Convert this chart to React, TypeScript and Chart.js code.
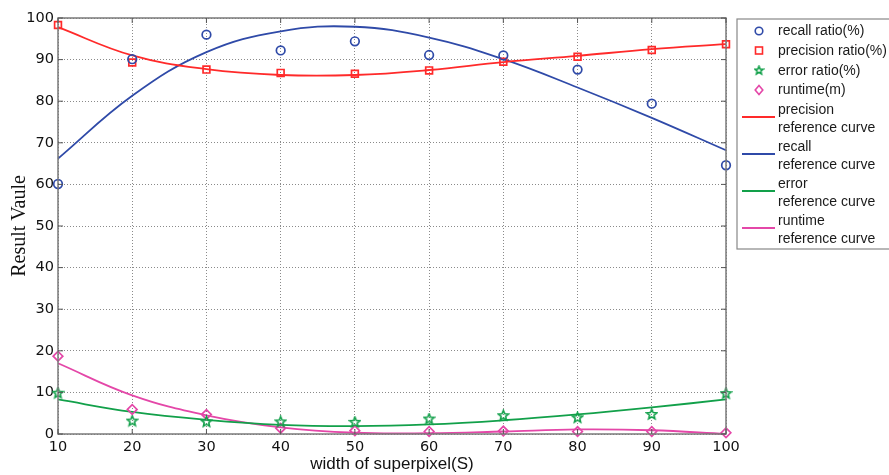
import React, { useEffect, useRef } from "react";
import { Chart, registerables } from "chart.js";

Chart.register(...registerables);

const widths = [10, 20, 30, 40, 50, 60, 70, 80, 90, 100];
const recallRatio = [60.1, 90.1, 96.0, 92.2, 94.4, 91.1, 91.0, 87.6, 79.4, 64.6];
const precisionRatio = [98.3, 89.3, 87.6, 86.8, 86.6, 87.4, 89.5, 90.7, 92.3, 93.7];
const errorRatio = [9.8, 3.1, 2.9, 2.9, 2.8, 3.6, 4.4, 3.9, 4.7, 9.7];
const runtimeM = [18.7, 5.9, 4.7, 1.4, 0.8, 0.6, 0.7, 0.6, 0.6, 0.3];

const precisionCurve = [97.8, 91.0, 87.7, 86.3, 86.3, 87.5, 89.4, 90.9, 92.5, 93.7];
const recallCurve = [66.2, 81.3, 91.8, 96.8, 97.9, 95.3, 90.1, 83.3, 76.0, 68.2];
const errorCurve = [8.3, 5.3, 3.4, 2.2, 1.9, 2.3, 3.3, 4.7, 6.4, 8.3];
const runtimeCurve = [17.0, 9.3, 4.5, 1.6, 0.3, 0.2, 0.6, 1.1, 0.9, 0.0];

const yTicks = [0, 10, 20, 30, 40, 50, 60, 70, 80, 90, 100];

const C_RECALL = "#2f4aa8";
const C_PREC = "#ff2a2a";
const C_ERR = "#12a04a";
const C_RUN = "#e447a8";

function makeStar(color: string, size: number) {
  const c = document.createElement("canvas");
  c.width = size;
  c.height = size;
  const ctx = c.getContext("2d")!;
  const cx = size / 2, cy = size / 2;
  const R = size / 2 - 1.2, r = R * 0.45;
  ctx.beginPath();
  for (let i = 0; i < 10; i++) {
    const a = -Math.PI / 2 + (i * Math.PI) / 5;
    const rr = i % 2 === 0 ? R : r;
    const x = cx + rr * Math.cos(a), y = cy + rr * Math.sin(a);
    if (i === 0) ctx.moveTo(x, y); else ctx.lineTo(x, y);
  }
  ctx.closePath();
  ctx.strokeStyle = color;
  ctx.lineWidth = 1.6;
  ctx.stroke();
  return c;
}

const pts = (ys: number[]) => widths.map((x, i) => ({ x, y: ys[i] }));

export default function App() {
  const ref = useRef<HTMLCanvasElement | null>(null);
  useEffect(() => {
    const canvas = ref.current!;
    const star = makeStar(C_ERR, 13);
    const legendStar = makeStar(C_ERR, 11);

    const framePlugin = {
      id: "frame",
      afterDatasetsDraw(chart: any) {
        const { ctx, chartArea: a, scales } = chart;
        ctx.save();
        ctx.strokeStyle = "#7a7a7a";
        ctx.lineWidth = 1.5;
        ctx.strokeRect(a.left, a.top, a.right - a.left, a.bottom - a.top);
        ctx.lineWidth = 1;
        ctx.strokeStyle = "#555";
        const tl = 5;
        widths.forEach((v) => {
          const x = scales.x.getPixelForValue(v);
          ctx.beginPath();
          ctx.moveTo(x, a.top); ctx.lineTo(x, a.top + tl);
          ctx.moveTo(x, a.bottom); ctx.lineTo(x, a.bottom - tl);
          ctx.stroke();
        });
        yTicks.forEach((v) => {
          const y = scales.y.getPixelForValue(v);
          ctx.beginPath();
          ctx.moveTo(a.left, y); ctx.lineTo(a.left + tl, y);
          ctx.moveTo(a.right, y); ctx.lineTo(a.right - tl, y);
          ctx.stroke();
        });
        ctx.restore();
      },
      afterDraw(chart: any) {
        const ctx = chart.ctx;
        ctx.save();
        // legend box
        ctx.fillStyle = "#fff";
        ctx.fillRect(737, 19, 170, 230);
        ctx.strokeStyle = "#888";
        ctx.lineWidth = 1.2;
        ctx.strokeRect(737, 19, 170, 230);
        ctx.font = "14px 'Liberation Sans', Arial, sans-serif";
        ctx.fillStyle = "#1a1a1a";
        ctx.textBaseline = "middle";
        ctx.textAlign = "left";
        const tx = 778;
        const mx = 759;
        ctx.lineWidth = 1.6;
        ctx.strokeStyle = C_RECALL;
        ctx.beginPath(); ctx.arc(mx, 31, 3.8, 0, Math.PI * 2); ctx.stroke();
        ctx.fillText("recall ratio(%)", tx, 31);
        ctx.strokeStyle = C_PREC;
        ctx.strokeRect(mx - 3.5, 50.5 - 3.5, 7, 7);
        ctx.fillText("precision ratio(%)", tx, 51);
        ctx.drawImage(legendStar, mx - 5.5, 70.5 - 5.5);
        ctx.fillText("error ratio(%)", tx, 71);
        ctx.strokeStyle = C_RUN;
        ctx.beginPath();
        ctx.moveTo(mx, 90 - 4.5); ctx.lineTo(mx + 3.8, 90); ctx.lineTo(mx, 90 + 4.5); ctx.lineTo(mx - 3.8, 90); ctx.closePath();
        ctx.stroke();
        ctx.fillText("runtime(m)", tx, 90);
        const lines: [string, string, number][] = [
          [C_PREC, "precision", 110],
          [C_RECALL, "recall", 147],
          [C_ERR, "error", 184],
          [C_RUN, "runtime", 221],
        ];
        lines.forEach(([col, name, y]) => {
          ctx.strokeStyle = col;
          ctx.lineWidth = 2;
          ctx.beginPath(); ctx.moveTo(742, y + 7); ctx.lineTo(775, y + 7); ctx.stroke();
          ctx.fillText(name, tx, y);
          ctx.fillText("reference curve", tx, y + 18);
        });
        ctx.restore();
      },
    };

    const lineDs = (label: string, data: number[], color: string) => ({
      type: "line" as const,
      label,
      data: pts(data),
      borderColor: color,
      backgroundColor: color,
      borderWidth: 1.8,
      pointRadius: 0,
      tension: 0.4,
      showLine: true,
      fill: false,
    });

    const gridOpts = {
      color: "#8a8a8a",
      lineWidth: 1,
      drawTicks: false,
    };

    const chart = new Chart(canvas, {
      type: "scatter",
      data: {
        datasets: [
          {
            label: "recall ratio(%)",
            data: pts(recallRatio),
            pointStyle: "circle",
            pointRadius: 4.3,
            borderColor: C_RECALL,
            backgroundColor: "rgba(0,0,0,0)",
            borderWidth: 1.7,
          },
          {
            label: "precision ratio(%)",
            data: pts(precisionRatio),
            pointStyle: "rect",
            pointRadius: 4.8,
            borderColor: C_PREC,
            backgroundColor: "rgba(0,0,0,0)",
            borderWidth: 1.7,
          },
          {
            label: "error ratio(%)",
            data: pts(errorRatio),
            pointStyle: star as any,
            pointRadius: 6,
            borderColor: C_ERR,
            backgroundColor: "rgba(0,0,0,0)",
          },
          {
            label: "runtime(m)",
            data: pts(runtimeM),
            pointStyle: "rectRot",
            pointRadius: 4.8,
            borderColor: C_RUN,
            backgroundColor: "rgba(0,0,0,0)",
            borderWidth: 1.7,
          },
          lineDs("precision reference curve", precisionCurve, C_PREC),
          lineDs("recall reference curve", recallCurve, C_RECALL),
          lineDs("error reference curve", errorCurve, C_ERR),
          lineDs("runtime reference curve", runtimeCurve, C_RUN),
        ] as any,
      },
      options: {
        animation: false,
        responsive: false,
        clip: false as any,
        layout: { padding: { top: 18, right: 163, left: 8, bottom: 0 } },
        plugins: {
          legend: { display: false },
          tooltip: { enabled: false },
        },
        scales: {
          x: {
            type: "linear",
            min: 10,
            max: 100,
            afterBuildTicks: (s: any) => {
              s.ticks = widths.map((v) => ({ value: v }));
            },
            afterFit: (s: any) => {
              s.height = 41;
            },
            ticks: {
              color: "#111",
              font: { family: "'DejaVu Sans', sans-serif", size: 14.5 },
              padding: 5,
              maxRotation: 0,
            },
            grid: gridOpts,
            border: { display: false, dash: [1, 2] },
            title: {
              display: true,
              text: "width of superpixel(S)",
              color: "#111",
              font: { family: "'Liberation Sans', Arial, sans-serif", size: 17 },
              padding: { top: 0, bottom: 0 },
            },
          },
          y: {
            min: 0,
            max: 100,
            afterBuildTicks: (s: any) => {
              s.ticks = yTicks.map((v) => ({ value: v }));
            },
            afterFit: (s: any) => {
              s.width = 50;
            },
            ticks: {
              color: "#111",
              font: { family: "'DejaVu Sans', sans-serif", size: 14.5 },
              padding: 4,
            },
            grid: gridOpts,
            border: { display: false, dash: [1, 2] },
            title: {
              display: true,
              text: "Result Vaule",
              color: "#111",
              font: { family: "'Liberation Serif', 'Times New Roman', serif", size: 20 },
              padding: { top: 0, bottom: 0 },
            },
          },
        },
      } as any,
      plugins: [framePlugin],
    });
    return () => chart.destroy();
  }, []);

  return (
    <div style={{ position: "fixed", left: 0, top: 0, width: 889, height: 475, background: "#fff" }}>
      <canvas ref={ref} width={889} height={475} style={{ display: "block" }} />
    </div>
  );
}
